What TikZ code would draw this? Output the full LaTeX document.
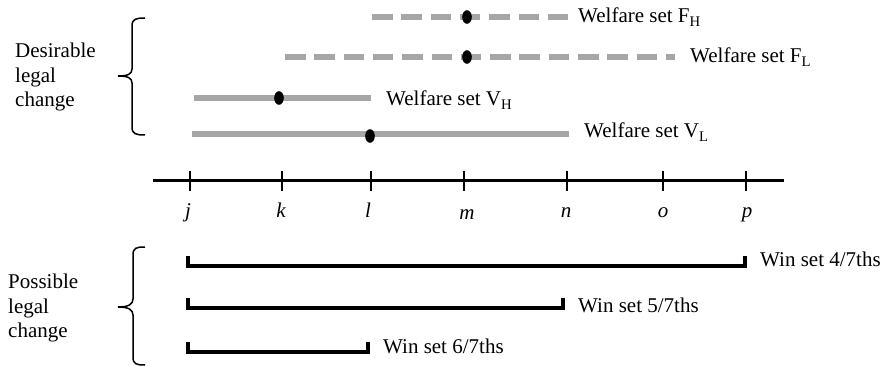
\documentclass[tikz,border=0pt]{standalone}
\usepackage{fontspec}
\setmainfont{Liberation Serif}
\definecolor{setgray}{RGB}{166,166,166}
\begin{document}
\begin{tikzpicture}[x=1pt,y=-1pt,
  txt/.style={inner sep=0pt,font=\fontsize{21}{24.5}\selectfont},
  lbl/.style={txt,anchor=base west},
  axlbl/.style={txt,anchor=base,font=\fontsize{21}{24.5}\selectfont\itshape},
  welfare/.style={setgray,line width=6.5pt},
  fset/.style={welfare,dash pattern=on 20.5pt off 8.8pt},
  dot/.style={fill=black},
  winset/.style={black,line width=3.2pt,line join=miter},
  brace/.style={black,line width=1.5pt},
  axis/.style={black,line width=3pt},
  tick/.style={black,line width=2.8pt}]
\useasboundingbox (0,0) rectangle (886,366);

% ---- welfare sets
\coordinate (fh1) at (372,17);  \coordinate (fh2) at (568,17);
\coordinate (fl1) at (285,57);  \coordinate (fl2) at (675,57);
\coordinate (vh1) at (194,98);  \coordinate (vh2) at (371,98);
\coordinate (vl1) at (192,134); \coordinate (vl2) at (569,134);
\draw[fset] (fh1) -- (fh2);
\draw[fset] (fl1) -- (fl2);
\draw[welfare] (vh1) -- (vh2);
\draw[welfare] (vl1) -- (vl2);
\fill[dot] (467,17) ellipse (4.8 and 6.8);
\fill[dot] (467,57) ellipse (4.8 and 6.8);
\fill[dot] (279,98) ellipse (4.8 and 6.8);
\fill[dot] (370,136) ellipse (4.8 and 6.8);
\node[lbl] (tfh) at (578,23) {Welfare set F\textsubscript{H}};
\node[lbl] (tfl) at (690,63) {Welfare set F\textsubscript{L}};
\node[lbl] (tvh) at (386,106) {Welfare set V\textsubscript{H}};
\node[lbl] (tvl) at (584,138) {Welfare set V\textsubscript{L}};

% ---- upper brace and label
\draw[brace] (145,18) .. controls (136,18) and (132,19) .. (132,26) -- (132,69)
  .. controls (132,74) and (128,76) .. (118,76)
  .. controls (128,76) and (132,78) .. (132,83) -- (132,127)
  .. controls (132,134) and (136,135) .. (145,135);
\node[txt,anchor=west,align=left] (desir) at (15,77) {Desirable\\legal\\change};

% ---- axis
\coordinate (a1) at (153,181); \coordinate (a2) at (784,181);
\draw[axis] (a1) -- (a2);
\foreach \x in {190,282,371,464,567,663,746}{
  \draw[tick] (\x,171) -- (\x,191);
}
\node[axlbl] (lj) at (188,218) {j};
\node[axlbl] (lk) at (281,218) {k};
\node[axlbl] (ll) at (368,218) {l};
\node[axlbl] (lm) at (467,220) {m};
\node[axlbl] (ln) at (566,218) {n};
\node[axlbl] (lo) at (663,218) {o};
\node[axlbl] (lp) at (747,218) {p};

% ---- win sets
\draw[winset] (188,256) -- (188,266) -- (745,266) -- (745,256);
\draw[winset] (188,298) -- (188,308) -- (563,308) -- (563,298);
\draw[winset] (188,342) -- (188,352) -- (368,352) -- (368,342);
\node[lbl] (w4) at (760,266.5) {Win set 4/7ths};
\node[lbl] (w5) at (578,312) {Win set 5/7ths};
\node[lbl] (w6) at (383,353) {Win set 6/7ths};

% ---- lower brace and label
\draw[brace] (145,247) .. controls (136,247) and (133,248) .. (133,255) -- (133,299)
  .. controls (133,304) and (129,307) .. (118,307)
  .. controls (129,307) and (133,310) .. (133,315) -- (133,357)
  .. controls (133,364) and (136,365) .. (145,365);
\node[txt,anchor=west,align=left] (possib) at (8,308) {Possible\\legal\\change};
\end{tikzpicture}
\end{document}
